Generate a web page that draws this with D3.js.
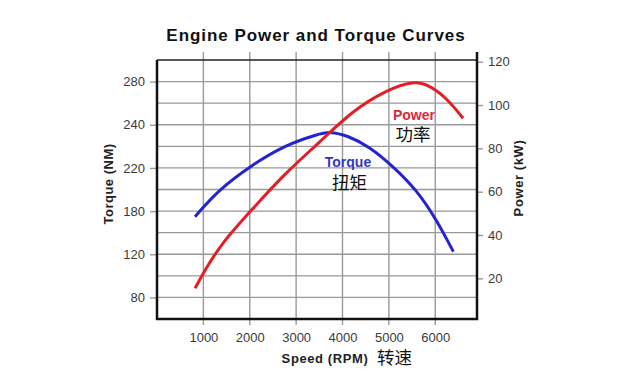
<!DOCTYPE html>
<html>
<head>
<meta charset="utf-8">
<script src="https://cdn.jsdelivr.net/npm/d3@7"></script>
<style>
  body { margin: 0; background: #fff; }
  svg { display: block; font-family: "Liberation Sans", Arial, sans-serif; }
</style>
</head>
<body>
<div id="canvas"></div>
<script>
// data
const speedTicks = [1000, 2000, 3000, 4000, 5000, 6000];
const torqueTicks = [80, 120, 180, 220, 240, 280];
const powerTicks = [20, 40, 60, 80, 100, 120];

const torqueRpm = [820, 1320, 2040, 2760, 3480, 3730, 4090, 4590, 5100, 5600, 6030, 6390];
const torqueNm = [172.2, 199.5, 221.3, 230.6, 235.7, 236.8, 235.2, 229.8, 220.5, 199.5, 167.6, 123.6];

const powerRpm = [820, 1035, 1395, 2040, 2760, 3480, 4230, 4950, 5530, 5890, 6250, 6600];
const powerKw = [15.4, 23.9, 36.2, 51.6, 68.5, 82.3, 97.7, 106.9, 111.3, 109.0, 103.1, 93.9];

const width = 640, height = 387;
const plotLeft = 157, plotRight = 477, plotTop = 60, plotBottom = 319;

const svg = d3.select('#canvas').append('svg')
    .attr('width', width)
    .attr('height', height);

const x = d3.scaleLinear().domain([0, 6900]).range([plotLeft, plotRight]);

// the torque axis labels are not evenly spaced in value, so the scale is piecewise
const step = (plotBottom - plotTop) / torqueTicks.length;
const yTorque = d3.scaleLinear()
    .domain(torqueTicks)
    .range(torqueTicks.map(function (d, i) { return plotBottom - (i + 0.5) * step; }));

const yPower = d3.scaleLinear().domain([0, 120]).range([321.7, 61.7]);

// grid
const grid = svg.append('g').attr('stroke', '#999').attr('stroke-width', 1.4);
for (let i = 1; i < torqueTicks.length * 2; i++) {
    const gy = plotTop + i * step / 2;
    grid.append('line').attr('x1', plotLeft).attr('x2', plotRight).attr('y1', gy).attr('y2', gy);
}
grid.selectAll('.vgrid')
    .data(speedTicks)
    .enter()
    .append('line')
    .attr('x1', function (d) { return x(d); })
    .attr('x2', function (d) { return x(d); })
    .attr('y1', plotTop - 8)
    .attr('y2', plotBottom + 6);

// axes
const bottomAxis = svg.append('g')
    .attr('transform', 'translate(0,' + plotBottom + ')')
    .call(d3.axisBottom(x).tickValues(speedTicks).tickFormat(d3.format('d')).tickSize(0).tickPadding(14));

const leftAxis = svg.append('g')
    .attr('transform', 'translate(' + plotLeft + ',0)')
    .call(d3.axisLeft(yTorque).tickValues(torqueTicks).tickSize(7).tickPadding(5));

const rightAxis = svg.append('g')
    .attr('transform', 'translate(' + plotRight + ',0)')
    .call(d3.axisRight(yPower).tickValues(powerTicks).tickSize(6).tickPadding(5));

[bottomAxis, leftAxis, rightAxis].forEach(function (a) {
    a.select('.domain').remove();
    a.selectAll('.tick line').attr('stroke', '#999').attr('stroke-width', 1.4);
    a.selectAll('.tick text')
        .attr('fill', '#3a3a3a')
        .style('font-size', '13px')
        .style('font-family', '"Liberation Sans", Arial, sans-serif');
});

// frame
svg.append('line').attr('x1', plotLeft).attr('x2', plotRight).attr('y1', plotTop).attr('y2', plotTop)
    .attr('stroke', '#222').attr('stroke-width', 1.5);
svg.append('path')
    .attr('d', 'M' + plotLeft + ',' + plotTop + 'V' + plotBottom + 'H' + plotRight + 'V' + (plotTop - 8))
    .attr('fill', 'none')
    .attr('stroke', '#111')
    .attr('stroke-width', 2.5);

// curves
const torqueLine = d3.line()
    .x(function (d) { return x(d[0]); })
    .y(function (d) { return yTorque(d[1]); })
    .curve(d3.curveBasis);

const powerLine = d3.line()
    .x(function (d) { return x(d[0]); })
    .y(function (d) { return yPower(d[1]); })
    .curve(d3.curveBasis);

svg.append('path')
    .datum(d3.zip(torqueRpm, torqueNm))
    .attr('d', torqueLine)
    .attr('fill', 'none')
    .attr('stroke', '#2323d2')
    .attr('stroke-width', 3);

svg.append('path')
    .datum(d3.zip(powerRpm, powerKw))
    .attr('d', powerLine)
    .attr('fill', 'none')
    .attr('stroke', '#e41e26')
    .attr('stroke-width', 3);

// texts
svg.append('text')
    .attr('x', 316).attr('y', 41)
    .attr('text-anchor', 'middle')
    .style('font-size', '17px').style('font-weight', 'bold')
    .style('letter-spacing', '0.95px')
    .attr('fill', '#111')
    .text('Engine Power and Torque Curves');

svg.append('text')
    .attr('transform', 'translate(113,184) rotate(-90)')
    .attr('text-anchor', 'middle')
    .style('font-size', '13px').style('font-weight', 'bold')
    .style('letter-spacing', '0.5px')
    .attr('fill', '#222')
    .text('Torque (NM)');

svg.append('text')
    .attr('transform', 'translate(523,178) rotate(-90)')
    .attr('text-anchor', 'middle')
    .style('font-size', '13px').style('font-weight', 'bold')
    .style('letter-spacing', '0.6px')
    .attr('fill', '#222')
    .text('Power (kW)');

svg.append('text')
    .attr('x', 325).attr('y', 363)
    .attr('text-anchor', 'middle')
    .style('font-size', '13px').style('font-weight', 'bold')
    .style('letter-spacing', '0.6px')
    .attr('fill', '#222')
    .text('Speed (RPM)');

svg.append('text')
    .attr('x', 377).attr('y', 364)
    .style('font-size', '17.5px')
    .style('font-family', '"Noto Sans CJK SC", sans-serif')
    .attr('fill', '#111')
    .text('转速');

svg.append('text')
    .attr('x', 414).attr('y', 119.5)
    .attr('text-anchor', 'middle')
    .style('font-size', '14px').style('font-weight', 'bold')
    .attr('fill', '#e0283a')
    .text('Power');

svg.append('text')
    .attr('x', 413).attr('y', 141)
    .attr('text-anchor', 'middle')
    .style('font-size', '17.5px')
    .style('font-family', '"Noto Sans CJK SC", sans-serif')
    .attr('fill', '#111')
    .text('功率');

svg.append('text')
    .attr('x', 348).attr('y', 166.5)
    .attr('text-anchor', 'middle')
    .style('font-size', '14px').style('font-weight', 'bold')
    .attr('fill', '#3535c8')
    .text('Torque');

svg.append('text')
    .attr('x', 349.5).attr('y', 188.5)
    .attr('text-anchor', 'middle')
    .style('font-size', '17.5px')
    .style('font-family', '"Noto Sans CJK SC", sans-serif')
    .attr('fill', '#111')
    .text('扭矩');
</script>
</body>
</html>
